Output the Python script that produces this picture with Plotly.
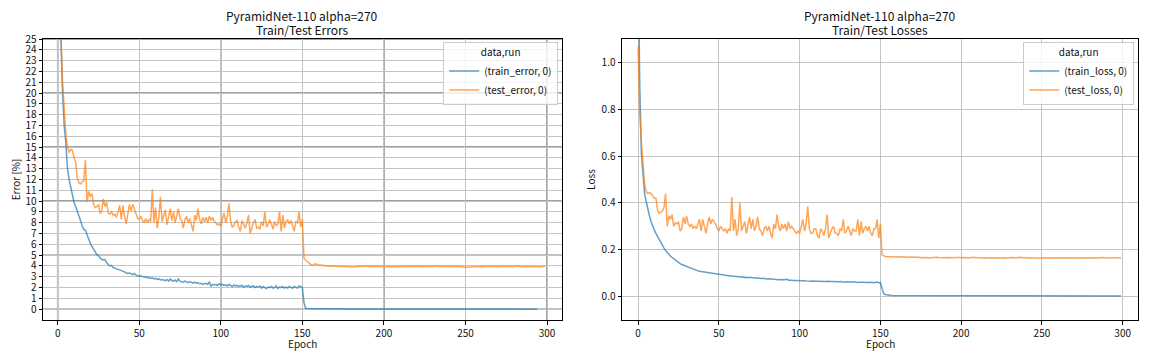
import plotly.graph_objects as go

# ---------------- data ----------------
epochs = list(range(300))

train_error_a = [
    60.0, 38.0, 25.0, 20.0, 17.0, 15.4, 13.0, 12.0, 11.3, 10.3,
    9.9, 9.5, 9.1, 8.6, 8.2, 7.7, 7.4, 7.3, 6.9, 6.4,
    6.1, 5.8, 5.6, 5.3, 5.05, 4.95, 4.75, 4.6, 4.55, 4.6,
    4.3, 4.15, 4.0, 4.05, 3.85, 3.8, 3.75, 3.65, 3.6, 3.6,
    3.5, 3.45, 3.35, 3.3, 3.35, 3.25, 3.2, 3.3, 3.15, 3.1,
    3.05, 3.1, 3.0, 2.95, 3.0, 2.9, 2.95, 2.85, 2.9, 2.8,
    2.85, 2.75, 2.8, 2.7, 2.75, 2.7, 2.65, 2.75, 2.6, 2.8,
    2.65, 2.6, 2.7, 2.55, 2.8, 2.6, 2.55, 2.5, 2.6, 2.5,
    2.45, 2.55, 2.45, 2.4, 2.5, 2.4, 2.45, 2.35, 2.4, 2.3,
    2.35, 2.4, 2.3, 2.55, 2.1, 2.3, 2.25, 2.3, 2.2, 2.35,
    2.25, 2.3, 2.2, 2.25, 2.15, 2.3, 2.2, 2.1, 2.25, 2.15,
    2.2, 2.1, 2.15, 2.2, 2.05, 2.15, 2.1, 2.2, 2.05, 2.1,
    2.15, 2.0, 2.1, 2.05, 2.15, 1.95, 2.1, 2.0, 1.9, 2.05,
    2.0, 2.1, 1.95, 2.0, 2.15, 1.9, 2.05, 2.0, 2.1, 1.95,
    2.05, 1.95, 2.1, 2.0, 1.95, 2.1, 2.0, 1.95, 2.15, 2.05,
]
train_error_b = [
    2.0, 0.6, 0.09, 0.06, 0.05,
    0.05, 0.04, 0.045, 0.04, 0.035, 0.04, 0.035, 0.03, 0.035, 0.03,
    0.03, 0.03, 0.025, 0.03, 0.025, 0.025, 0.03, 0.02, 0.025, 0.02,
    0.02, 0.025, 0.02, 0.02, 0.015, 0.02, 0.02, 0.015, 0.02, 0.015,
    0.015, 0.02, 0.015, 0.015, 0.01, 0.015, 0.015, 0.01, 0.015, 0.01,
    0.01, 0.015, 0.01, 0.01, 0.015, 0.01, 0.01, 0.01, 0.015, 0.01,
    0.01, 0.01, 0.005, 0.01, 0.01, 0.01, 0.005, 0.01, 0.01, 0.005,
    0.01, 0.005, 0.01, 0.01, 0.005, 0.01, 0.005, 0.005, 0.01, 0.005,
    0.005, 0.01, 0.005, 0.005, 0.005, 0.01, 0.005, 0.005, 0.005, 0.01,
    0.005, 0.005, 0.005, 0.005, 0.01, 0.005, 0.005, 0.005, 0.005, 0.005,
    0.01, 0.005, 0.005, 0.005, 0.005, 0.005, 0.005, 0.01, 0.005, 0.005,
    0.005, 0.005, 0.005, 0.005, 0.005, 0.01, 0.005, 0.005, 0.005, 0.005,
    0.005, 0.005, 0.005, 0.005, 0.005, 0.005, 0.01, 0.005, 0.005, 0.005,
    0.005, 0.005, 0.005, 0.005, 0.005, 0.005, 0.005, 0.005, 0.01, 0.005,
    0.005, 0.005, 0.005, 0.005, 0.005, 0.005, 0.005, 0.005, 0.005, 0.005,
]

test_error_a = [
    40.0, 31.0, 25.5, 21.0, 18.3, 16.2, 15.0, 14.5, 14.8, 14.7,
    14.0, 13.6, 12.1, 11.7, 11.6, 11.8, 11.9, 13.8, 9.9, 10.9,
    10.4, 10.7, 9.7, 9.4, 9.5, 9.7, 8.9, 9.0, 10.2, 9.5,
    9.9, 8.9, 8.8, 9.0, 8.7, 8.8, 8.5, 9.0, 9.6, 8.3,
    9.6, 8.6, 7.9, 8.8, 9.7, 9.1, 9.7, 9.3, 8.9, 8.4,
    8.3, 8.6, 8.2, 8.0, 8.4, 8.0, 8.3, 8.1, 11.1, 8.0,
    9.4, 7.5, 8.5, 10.4, 8.1, 8.7, 9.2, 7.8, 8.6, 9.3,
    8.2, 9.0, 8.0, 8.6, 9.3, 8.4, 8.2, 7.5, 8.3, 8.6,
    8.0, 8.4, 7.9, 7.2, 8.7, 8.2, 9.3, 8.3, 7.9, 8.5,
    8.1, 8.5, 8.0, 8.6, 8.2, 8.5, 8.1, 8.0, 7.8, 7.9,
    7.7, 8.4, 8.9, 8.0, 8.6, 9.8, 8.2, 7.6, 7.7, 8.1,
    8.2, 7.6, 7.2, 8.2, 7.8, 7.5, 8.0, 8.7, 7.0, 7.6,
    8.0, 8.3, 7.5, 7.6, 7.4, 8.1, 7.7, 9.0, 7.6, 7.8,
    8.3, 7.9, 7.4, 8.1, 7.7, 7.9, 9.0, 7.2, 8.7, 7.5,
    8.1, 8.3, 7.9, 8.2, 7.6, 7.2, 8.1, 8.0, 9.0, 7.6,
    8.3,
]
test_error_b = [
    4.7, 4.55, 4.4, 4.3, 4.15, 4.05, 4.1, 4.2, 4.15, 4.1,
    4.05, 4.1, 4.0, 4.05, 4.0, 3.98, 4.02, 3.95, 4.0, 3.97,
    4.0, 3.96, 3.98, 3.95, 3.97, 3.93, 3.95, 3.9, 3.92, 3.88,
    3.9, 3.86, 3.92, 3.9, 3.95, 3.97, 3.93, 3.96, 4.0, 3.95,
    3.97, 3.94, 3.96, 3.98, 3.95, 3.97, 3.93, 3.96, 3.95, 3.97,
    3.94, 3.96, 3.93, 3.95, 3.92, 3.94, 3.96, 3.93, 3.95, 3.94,
    3.96, 3.92, 3.95, 3.93, 3.97, 3.94, 3.95, 3.92, 3.96, 3.94,
    3.95, 3.97, 3.93, 3.96, 3.94, 3.98, 3.95, 3.93, 3.97, 3.95,
    3.94, 4.0, 3.95, 3.93, 3.96, 3.98, 3.94, 3.96, 3.95, 3.97,
    3.95, 3.93, 3.96, 3.94, 3.97, 3.92, 3.94, 3.9, 3.92, 3.89,
    3.9, 3.92, 3.91, 3.94, 3.92, 3.95, 3.93, 3.96, 3.94, 3.92,
    3.95, 3.93, 3.96, 3.94, 3.92, 3.95, 3.97, 3.94, 3.96, 3.93,
    3.95, 3.97, 3.93, 3.96, 3.94, 3.95, 3.98, 3.95, 3.93, 3.96,
    3.94, 4.0, 3.95, 3.93, 3.91, 3.94, 3.92, 3.95, 3.93, 3.9,
    3.93, 3.95, 3.92, 3.9, 3.94, 3.88, 3.93, 3.96, 4.0,
]

train_loss_a = [
    1.45, 0.9, 0.61, 0.51, 0.44, 0.405, 0.37, 0.345, 0.32, 0.30,
    0.285, 0.27, 0.256, 0.243, 0.23, 0.218, 0.207, 0.197, 0.188, 0.18,
    0.173, 0.167, 0.161, 0.156, 0.151, 0.146, 0.141, 0.137, 0.134, 0.131,
    0.128, 0.125, 0.122, 0.119, 0.116, 0.114, 0.112, 0.110, 0.108, 0.107,
    0.106, 0.104, 0.103, 0.101, 0.100, 0.099, 0.097, 0.096, 0.095, 0.094,
    0.093, 0.093, 0.091, 0.090, 0.091, 0.089, 0.088, 0.088, 0.087, 0.087,
    0.086, 0.085, 0.086, 0.084, 0.083, 0.084, 0.082, 0.082, 0.081, 0.082,
    0.080, 0.080, 0.079, 0.080, 0.078, 0.079, 0.077, 0.078, 0.076, 0.077,
    0.075, 0.076, 0.075, 0.074, 0.075, 0.073, 0.074, 0.072, 0.073, 0.071,
    0.072, 0.072, 0.075, 0.070, 0.071, 0.070, 0.069, 0.070, 0.068, 0.069,
    0.068, 0.069, 0.067, 0.068, 0.067, 0.066, 0.068, 0.066, 0.067, 0.065,
    0.066, 0.066, 0.065, 0.066, 0.064, 0.065, 0.064, 0.065, 0.063, 0.064,
    0.064, 0.063, 0.064, 0.062, 0.063, 0.064, 0.062, 0.063, 0.061, 0.063,
    0.062, 0.061, 0.062, 0.063, 0.061, 0.062, 0.060, 0.061, 0.062, 0.060,
    0.061, 0.060, 0.061, 0.059, 0.060, 0.061, 0.059, 0.060, 0.062, 0.058,
    0.060,
]
train_loss_b = [
    0.035, 0.014, 0.009, 0.007, 0.006, 0.0055, 0.005, 0.005, 0.0048, 0.0047,
    0.0046, 0.0045, 0.0045, 0.0044, 0.0043, 0.0043, 0.0042, 0.0042, 0.0041, 0.0041,
    0.004, 0.004, 0.004, 0.0039, 0.0039, 0.0039, 0.0038, 0.0038, 0.0038, 0.0037,
    0.0037, 0.0037, 0.0037, 0.0036, 0.0036, 0.0036, 0.0036, 0.0035, 0.0035, 0.0035,
    0.0035, 0.0035, 0.0034, 0.0034, 0.0034, 0.0034, 0.0034, 0.0033, 0.0033, 0.0033,
    0.0033, 0.0033, 0.0033, 0.0032, 0.0032, 0.0032, 0.0032, 0.0032, 0.0032, 0.0032,
    0.0031, 0.0031, 0.0031, 0.0031, 0.0031, 0.0031, 0.0031, 0.0031, 0.003, 0.003,
    0.003, 0.003, 0.003, 0.003, 0.003, 0.003, 0.003, 0.003, 0.003, 0.003,
    0.003, 0.003, 0.003, 0.003, 0.003, 0.003, 0.003, 0.003, 0.003, 0.003,
    0.003, 0.003, 0.003, 0.003, 0.003, 0.003, 0.003, 0.003, 0.003, 0.003,
    0.003, 0.003, 0.003, 0.003, 0.003, 0.003, 0.003, 0.003, 0.003, 0.003,
    0.003, 0.003, 0.003, 0.003, 0.003, 0.003, 0.003, 0.003, 0.003, 0.003,
    0.003, 0.003, 0.003, 0.003, 0.003, 0.003, 0.003, 0.003, 0.003, 0.003,
    0.003, 0.003, 0.003, 0.003, 0.003, 0.003, 0.003, 0.003, 0.003, 0.003,
    0.003, 0.003, 0.003, 0.003, 0.003, 0.003, 0.003, 0.003, 0.003,
]

test_loss_a = [
    1.067, 0.78, 0.66, 0.57, 0.48, 0.45, 0.44, 0.445, 0.44, 0.43,
    0.42, 0.42, 0.37, 0.355, 0.36, 0.365, 0.38, 0.44, 0.30, 0.345,
    0.33, 0.35, 0.30, 0.315, 0.31, 0.32, 0.28, 0.29, 0.34, 0.31,
    0.345, 0.31, 0.30, 0.31, 0.29, 0.30, 0.29, 0.31, 0.33, 0.28,
    0.33, 0.30, 0.27, 0.31, 0.34, 0.31, 0.33, 0.32, 0.31, 0.29,
    0.28, 0.30, 0.29, 0.28, 0.29, 0.27, 0.29, 0.28, 0.425, 0.28,
    0.33, 0.26, 0.29, 0.40, 0.28, 0.30, 0.32, 0.27, 0.30, 0.34,
    0.29, 0.33, 0.28, 0.30, 0.34, 0.29, 0.28, 0.26, 0.29, 0.30,
    0.28, 0.30, 0.27, 0.25, 0.31, 0.29, 0.35, 0.30, 0.28, 0.31,
    0.29, 0.31, 0.28, 0.32, 0.29, 0.30, 0.29, 0.28, 0.27, 0.28,
    0.27, 0.30, 0.33, 0.28, 0.31, 0.385, 0.29, 0.27, 0.27, 0.29,
    0.29, 0.26, 0.25, 0.29, 0.28, 0.26, 0.29, 0.35, 0.25, 0.27,
    0.29, 0.30, 0.27, 0.27, 0.26, 0.29, 0.28, 0.33, 0.27, 0.28,
    0.30, 0.28, 0.26, 0.29, 0.28, 0.28, 0.33, 0.26, 0.32, 0.27,
    0.29, 0.30, 0.28, 0.30, 0.27, 0.26, 0.29, 0.29, 0.33, 0.25,
    0.31,
]
test_loss_b = [
    0.178, 0.173, 0.171, 0.170, 0.171, 0.169, 0.170, 0.169, 0.171, 0.170,
    0.169, 0.170, 0.168, 0.169, 0.170, 0.168, 0.169, 0.167, 0.168, 0.169,
    0.168, 0.169, 0.167, 0.168, 0.166, 0.167, 0.168, 0.166, 0.167, 0.165,
    0.166, 0.165, 0.167, 0.166, 0.168, 0.167, 0.166, 0.168, 0.167, 0.166,
    0.167, 0.166, 0.168, 0.167, 0.166, 0.167, 0.168, 0.166, 0.167, 0.166,
    0.167, 0.166, 0.167, 0.165, 0.166, 0.167, 0.166, 0.168, 0.166, 0.167,
    0.166, 0.165, 0.166, 0.167, 0.166, 0.165, 0.166, 0.164, 0.166, 0.165,
    0.166, 0.167, 0.166, 0.165, 0.166, 0.167, 0.166, 0.165, 0.166, 0.167,
    0.166, 0.167, 0.165, 0.166, 0.167, 0.166, 0.168, 0.166, 0.167, 0.166,
    0.165, 0.166, 0.167, 0.166, 0.165, 0.166, 0.165, 0.164, 0.165, 0.166,
    0.165, 0.166, 0.165, 0.166, 0.167, 0.166, 0.165, 0.166, 0.167, 0.166,
    0.165, 0.166, 0.167, 0.166, 0.165, 0.166, 0.167, 0.166, 0.165, 0.166,
    0.167, 0.166, 0.165, 0.166, 0.167, 0.166, 0.165, 0.166, 0.167, 0.166,
    0.165, 0.167, 0.166, 0.165, 0.166, 0.165, 0.166, 0.167, 0.166, 0.165,
    0.166, 0.165, 0.166, 0.167, 0.166, 0.165, 0.166, 0.165, 0.166,
]

train_error = train_error_a + train_error_b
test_error = test_error_a + test_error_b
train_loss = train_loss_a + train_loss_b
test_loss = test_loss_a + test_loss_b

error_ticks = list(range(0, 26))
loss_ticks = [0.0, 0.2, 0.4, 0.6, 0.8, 1.0]
epoch_ticks = [0, 50, 100, 150, 200, 250, 300]
major_epoch_lines = [0, 100, 200, 300]
major_error_lines = [0, 5, 10, 15, 20, 25]
title_main = "PyramidNet-110 alpha=270"
subtitles = ["Train/Test Errors", "Train/Test Losses"]
x_title = "Epoch"

# ---------------- styling ----------------
FONT = "Noto Sans CJK JP, Noto Sans, DejaVu Sans, sans-serif"
BLUE = "rgba(31,119,180,0.7)"
ORANGE = "rgba(255,127,14,0.7)"
LIGHT_GRID = "#c4c4c4"
DARK_GRID = "#828282"

# the page body adds an 8px offset; target page positions are converted below
OFF = 8
W, H = 1152 - OFF, 360 - OFF
PAGE_LEFT, PAGE_RIGHT, PAGE_TOP, PAGE_BOTTOM = 43.3, 1138.3, 39.3, 320
ML = PAGE_LEFT - OFF
MR = W - (PAGE_RIGHT - OFF)
MT = PAGE_TOP - OFF
MB = H - (PAGE_BOTTOM - OFF)
PW, PH = W - ML - MR, H - MT - MB


def fx(p):
    """page pixel x -> plot-area fraction"""
    return (p - OFF - ML) / PW


def fy(p):
    """page pixel y (from top) -> plot-area fraction"""
    return (PAGE_BOTTOM - p) / PH


dom1 = [0.0, fx(562)]
dom2 = [fx(622.3), 1.0]
ydom = [0.0, 1.0]

fig = go.Figure()
fig.add_trace(go.Scatter(x=epochs, y=train_error, mode="lines", name="(train_error, 0)",
                         line=dict(color=BLUE, width=1.5), xaxis="x", yaxis="y", legend="legend"))
fig.add_trace(go.Scatter(x=epochs, y=test_error, mode="lines", name="(test_error, 0)",
                         line=dict(color=ORANGE, width=1.5), xaxis="x", yaxis="y", legend="legend"))
fig.add_trace(go.Scatter(x=epochs, y=train_loss, mode="lines", name="(train_loss, 0)",
                         line=dict(color=BLUE, width=1.5), xaxis="x2", yaxis="y2", legend="legend2"))
fig.add_trace(go.Scatter(x=epochs, y=test_loss, mode="lines", name="(test_loss, 0)",
                         line=dict(color=ORANGE, width=1.5), xaxis="x2", yaxis="y2", legend="legend2"))

axis_common = dict(
    showline=True, linecolor="black", linewidth=1, mirror=True,
    ticks="outside", ticklen=3.5, tickwidth=0.8, tickcolor="black",
    showgrid=True, gridcolor=LIGHT_GRID, gridwidth=0.8, zeroline=False,
    tickfont=dict(family=FONT, size=10, color="#111"), automargin=False,
)


def ttl(text, standoff):
    return dict(text=text, font=dict(family=FONT, size=10, color="#111"), standoff=standoff)


def legend_box(right_px):
    return dict(x=fx(right_px), xanchor="right", y=fy(42.7), yanchor="top",
                bgcolor="rgba(255,255,255,0.8)", bordercolor="#cccccc", borderwidth=1,
                font=dict(family=FONT, size=10, color="#111"),
                title=dict(text="data,run", side="top center", font=dict(family=FONT, size=10)),
                itemwidth=30, tracegroupgap=0)


fig.update_layout(
    width=W, height=H, autosize=False,
    margin=dict(l=ML, r=MR, t=MT, b=MB, pad=0),
    paper_bgcolor="white", plot_bgcolor="white",
    font=dict(family=FONT, size=10, color="#111"),
    xaxis=dict(domain=dom1, anchor="y", range=[-9, 309], tickmode="array", tickvals=epoch_ticks,
               **axis_common),
    yaxis=dict(domain=ydom, anchor="x", range=[-1, 25], tickmode="array", tickvals=error_ticks,
               title=ttl("Error [%]", 12), **axis_common),
    xaxis2=dict(domain=dom2, anchor="y2", range=[-10, 309.5], tickmode="array", tickvals=epoch_ticks,
                **axis_common),
    yaxis2=dict(domain=ydom, anchor="x2", range=[-0.1, 1.1], tickmode="array", tickvals=loss_ticks,
                tickformat=".1f", title=ttl("Loss", 4), **axis_common),
    legend=legend_box(558.5),
    legend2=legend_box(1134.5),
    showlegend=True,
)

# darker major gridlines on the error panel
for v in major_epoch_lines:
    fig.add_shape(type="line", xref="x", yref="y domain", x0=v, x1=v, y0=0, y1=1,
                  line=dict(color=DARK_GRID, width=1.5), layer="below")
for v in major_error_lines:
    fig.add_shape(type="line", xref="x domain", yref="y", x0=0, x1=1, y0=v, y1=v,
                  line=dict(color=DARK_GRID, width=1.5), layer="below")

# two-line titles (one annotation per line for matplotlib-like spacing) and x-axis titles
for dom, sub in zip([dom1, dom2], subtitles):
    cx = (dom[0] + dom[1]) / 2
    fig.add_annotation(text=title_main, xref="paper", yref="paper", x=cx, y=fy(15.5),
                       xanchor="center", yanchor="middle", showarrow=False,
                       font=dict(family=FONT, size=12, color="#111"))
    fig.add_annotation(text=sub, xref="paper", yref="paper", x=cx, y=fy(29.5),
                       xanchor="center", yanchor="middle", showarrow=False,
                       font=dict(family=FONT, size=12, color="#111"))
    fig.add_annotation(text=x_title, xref="paper", yref="paper", x=cx, y=fy(343),
                       xanchor="center", yanchor="middle", showarrow=False,
                       font=dict(family=FONT, size=10, color="#111"))

fig.write_html("out.html")
